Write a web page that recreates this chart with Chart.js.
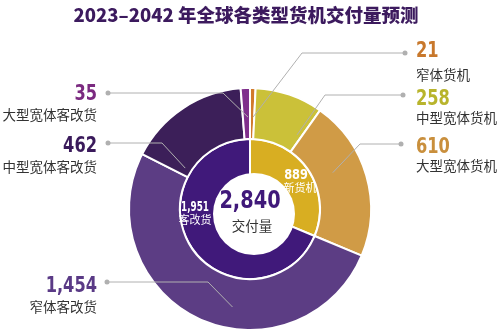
<!DOCTYPE html>
<html>
<head>
<meta charset="utf-8">
<script src="https://cdn.jsdelivr.net/npm/chart.js@4"></script>
<style>
  html, body { margin: 0; padding: 0; background: #fff; }
  #wrap { width: 500px; height: 334px; position: relative; }
</style>
</head>
<body>
<div id="wrap"><canvas id="fleetChart" width="500" height="334"></canvas></div>
<script>
const titleText = '2023–2042 年全球各类型货机交付量预测';

// outer ring: aircraft types
const typeLabels = ['窄体货机', '中型宽体货机', '大型宽体货机', '窄体客改货', '中型宽体客改货', '大型宽体客改货'];
const typeValues = [21, 258, 610, 1454, 462, 35];
const typeColors = ['#d17a2c', '#cbc139', '#d09b46', '#5c3d84', '#3c1f59', '#7f2f8c'];
const typeTextColors = ['#c8782c', '#b8b42c', '#c98f3c', '#5a3a86', '#3a1a5b', '#7b2a80'];

// inner ring: new build vs conversions
const groupLabels = ['新货机', '客改货'];
const groupValues = [889, 1951];
const groupColors = ['#d8ae22', '#40197a'];

const centerLabel = '交付量';

const NUM_FONT = '"DejaVu Sans Condensed", sans-serif';
const CJK_FONT = '"Noto Sans CJK SC", sans-serif';

// callout layout: which slice, where the label sits, where the leader bends
const callouts = [
  { i: 0, side: 'right', numY: 57,  textY: 75,  dotX: 405, dotY: 53,  elbowX: 302, t: 0.7,  f: 0.43 },
  { i: 1, side: 'right', numY: 105, textY: 118, dotX: 403, dotY: 95,  elbowX: 325, t: 0.91, f: 0.35 },
  { i: 2, side: 'right', numY: 153, textY: 166, dotX: 401, dotY: 144, elbowX: 360, t: 0.40, f: 0.40 },
  { i: 5, side: 'left',  numY: 100, textY: 115, dotX: 108, dotY: 93,  elbowX: 223, t: 0.72, f: 0.43 },
  { i: 4, side: 'left',  numY: 152, textY: 167, dotX: 108, dotY: 143, elbowX: 162, t: 0.09, f: 0.13 },
  { i: 3, side: 'left',  numY: 292, textY: 307, dotX: 107, dotY: 282, elbowX: 208, t: 0.42, f: 0.58 }
];

const fmt = v => v.toLocaleString('en-US');

// narrow numerals: squeeze the text horizontally around its anchor
function drawNum(ctx, text, x, y, sx) {
  ctx.save();
  ctx.translate(x, y);
  ctx.scale(sx, 1);
  ctx.fillText(text, 0, 0);
  ctx.restore();
}

const overlay = {
  id: 'overlay',
  afterDatasetsDraw(chart) {
    const ctx = chart.ctx;
    const outer = chart.getDatasetMeta(0).data;
    const inner = chart.getDatasetMeta(1).data;
    const cx = inner[0].x, cy = inner[0].y;
    ctx.save();

    // white centre disc (sits a little low and right of the ring centre)
    ctx.fillStyle = '#fff';
    ctx.beginPath();
    ctx.arc(cx + 4, cy + 5, 41, 0, Math.PI * 2);
    ctx.fill();

    // title
    ctx.fillStyle = '#3c1a5e';
    ctx.font = '900 18.5px ' + CJK_FONT;
    ctx.textAlign = 'center';
    ctx.textBaseline = 'middle';
    ctx.fillText(titleText, 246, 15);

    // leader lines + labels
    callouts.forEach(c => {
      const a = outer[c.i].getProps(['x', 'y', 'startAngle', 'endAngle', 'innerRadius', 'outerRadius'], true);
      const ang = a.startAngle + c.t * (a.endAngle - a.startAngle);
      const r = a.innerRadius + c.f * (a.outerRadius - a.innerRadius);
      const ax = a.x + Math.cos(ang) * r;
      const ay = a.y + Math.sin(ang) * r;

      ctx.strokeStyle = '#b0b0b0';
      ctx.lineWidth = 1;
      ctx.beginPath();
      ctx.moveTo(ax, ay);
      ctx.lineTo(c.elbowX, c.dotY);
      ctx.lineTo(c.dotX, c.dotY);
      ctx.stroke();
      ctx.fillStyle = '#b0b0b0';
      ctx.beginPath();
      ctx.arc(c.dotX, c.dotY, 2.5, 0, Math.PI * 2);
      ctx.fill();

      const tx = c.side === 'right' ? 416 : 97;
      ctx.textAlign = c.side === 'right' ? 'left' : 'right';
      ctx.fillStyle = typeTextColors[c.i];
      ctx.font = 'bold 20.5px ' + NUM_FONT;
      ctx.textBaseline = 'alphabetic';
      drawNum(ctx, fmt(typeValues[c.i]), tx, c.numY, 0.88);
      ctx.fillStyle = '#333';
      ctx.font = '13.5px ' + CJK_FONT;
      ctx.textBaseline = 'middle';
      ctx.fillText(typeLabels[c.i], tx, c.textY);
    });

    // inner ring labels
    ctx.textAlign = 'center';
    ctx.fillStyle = '#fff';
    ctx.font = 'bold 14px ' + NUM_FONT;
    ctx.textBaseline = 'alphabetic';
    drawNum(ctx, fmt(groupValues[0]), cx + 46, cy - 30, 0.9);
    drawNum(ctx, fmt(groupValues[1]), cx - 55, cy + 2, 0.7);
    ctx.font = '11px ' + CJK_FONT;
    ctx.textBaseline = 'middle';
    ctx.fillText(groupLabels[0], cx + 50, cy - 21);
    ctx.fillText(groupLabels[1], cx - 55, cy + 11);

    // center total
    const total = typeValues.reduce((s, v) => s + v, 0);
    ctx.fillStyle = '#40197a';
    ctx.font = 'bold 25px ' + NUM_FONT;
    ctx.textBaseline = 'alphabetic';
    drawNum(ctx, fmt(total), cx, cy - 1, 0.86);
    ctx.fillStyle = '#333';
    ctx.font = '13.5px ' + CJK_FONT;
    ctx.textBaseline = 'middle';
    ctx.fillText(centerLabel, cx + 2, cy + 17);

    ctx.restore();
  }
};

new Chart(document.getElementById('fleetChart'), {
  type: 'doughnut',
  data: {
    labels: typeLabels,
    datasets: [
      { data: typeValues, backgroundColor: typeColors, borderColor: '#fff', borderWidth: 2, hoverBorderWidth: 2, weight: 51 },
      { data: groupValues, backgroundColor: groupColors, borderColor: '#fff', borderWidth: 2, hoverBorderWidth: 2, weight: 40 }
    ]
  },
  options: {
    responsive: false,
    animation: false,
    cutout: '24.8%',
    layout: { padding: { left: 128, right: 128, top: 87, bottom: 3 } },
    plugins: { legend: { display: false }, tooltip: { enabled: false } }
  },
  plugins: [overlay]
});
</script>
</body>
</html>
